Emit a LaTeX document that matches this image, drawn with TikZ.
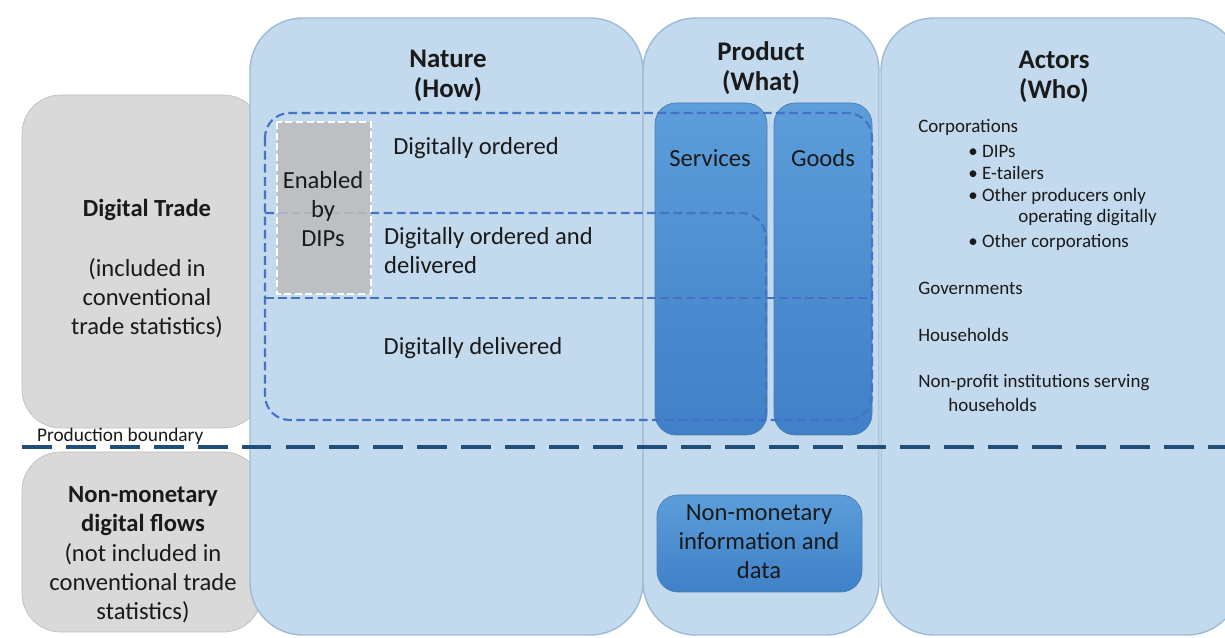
\documentclass[tikz,border=0pt]{standalone}
\usepackage{fontspec}
\setmainfont{Carlito}
\definecolor{panelfill}{HTML}{C2D9EE}
\definecolor{paneldraw}{HTML}{9DBBD8}
\definecolor{greyfill}{HTML}{D9D9D9}
\definecolor{greydraw}{HTML}{BFBFBF}
\definecolor{dipsfill}{HTML}{BDBDBD}
\definecolor{prodtop}{HTML}{5C9DDA}
\definecolor{prodbot}{HTML}{3F80C8}
\definecolor{dashblue}{HTML}{4472C4}
\definecolor{boundary}{HTML}{1F4E79}
\definecolor{inktext}{HTML}{1A1A1A}
\begin{document}
\begin{tikzpicture}[x=0.02cm,y=-0.02cm,
    greybox/.style={fill=greyfill, draw=greydraw, rounded corners=22},
    panel/.style={fill=panelfill, draw=paneldraw, line width=0.8pt, rounded corners=30},
    prodbox/.style={top color=prodtop, bottom color=prodbot, draw=prodtop!80!black, line width=0.4pt, rounded corners=12},
    dashbox/.style={draw=dashblue, line width=1.2pt, dash pattern=on 5pt off 2.5pt, rounded corners=14},
    txt/.style={text=inktext, font=\fontsize{14}{16.5}\selectfont, inner sep=1pt},
    title/.style={txt, font=\bfseries\fontsize{15.3}{17.2}\selectfont, align=center},
    small/.style={text=inktext, font=\fontsize{10.8}{12}\selectfont, anchor=west, inner sep=0pt}]
    \useasboundingbox (0,0) rectangle (1225,638);
    % left grey boxes and the three panels
    \path[greybox] (22,95) rectangle (262,428);
    \path[greybox] (22,452) rectangle (262,632);
    \path[panel] (250,18) rectangle (643,635);
    \path[panel] (643,18) rectangle (879,635);
    \path[panel] (881,18) rectangle (1240,635);
    % product boxes
    \path[prodbox] (655,103) rectangle (767,435);
    \path[prodbox] (774,103) rectangle (872,435);
    \path[prodbox] (657,495) rectangle (862,592);
    % dashed nature boxes: ordered (top), delivered (lower left)
    \path[dashbox] (265,113) rectangle (872,420);
    \path[dashbox] (265,298) -- (872,298);
    \path[dashbox] (265,213) -- (766,213) -- (766,420);
    % enabled by DIPs
    \path[fill=dipsfill, fill opacity=0.88, draw=white, line width=1pt, dash pattern=on 4pt off 2pt] (277,122) rectangle (371,294);
    % production boundary
    \coordinate (pb0) at (22,447);
    \coordinate (pb1) at (1225,447);
    \draw[boundary, line width=2.6pt, dash pattern=on 17pt off 8pt] (pb0) -- (pb1);
    \node[txt, font=\fontsize{11}{13}\selectfont, anchor=west] (pbtext) at (35,436) {Production boundary};
    % titles
    \node[title] (nature) at (448,76) {Nature\\(How)};
    \node[title] (product) at (761,68) {Product\\(What)};
    \node[title] (actors) at (1054,77) {Actors\\(Who)};
    % left texts
    \node[txt, font=\bfseries\fontsize{14}{16.5}\selectfont] (dtrade) at (147,210) {Digital Trade};
    \node[txt, align=center] (dtradenote) at (147,298) {(included in\\conventional\\trade statistics)};
    \node[txt, font=\bfseries\fontsize{14}{16.5}\selectfont, align=center] (nmflows) at (143,511) {Non-monetary\\digital flows};
    \node[txt, align=center] (nmnote) at (143,583) {(not included in\\conventional trade\\statistics)};
    % nature texts
    \node[txt, align=center] (dips) at (323,209) {Enabled\\by\\DIPs};
    \node[txt] (dordered) at (476,148) {Digitally ordered};
    \node[txt, align=left, anchor=west] (dboth) at (382,251) {Digitally ordered and\\delivered};
    \node[txt] (ddelivered) at (473,348) {Digitally delivered};
    % product texts
    \node[txt] (services) at (710,158) {Services};
    \node[txt] (goods) at (823,158) {Goods};
    \node[txt, align=center] (nminfo) at (759,542) {Non-monetary\\information and\\data};
    % actors list
    \node[small] (corp) at (918,127) {Corporations};
    \node[small] (a1) at (968,151) {\textbullet\ DIPs};
    \node[small] (a2) at (968,173) {\textbullet\ E-tailers};
    \node[small] (a3) at (968,196) {\textbullet\ Other producers only};
    \node[small] (a3b) at (1018,218) {operating digitally};
    \node[small] (a4) at (968,242) {\textbullet\ Other corporations};
    \node[small] (gov) at (918,288) {Governments};
    \node[small] (hh) at (918,335) {Households};
    \node[small] (npish) at (918,383) {Non-profit institutions serving};
    \node[small] (npish2) at (948,405) {households};
\end{tikzpicture}
\end{document}
